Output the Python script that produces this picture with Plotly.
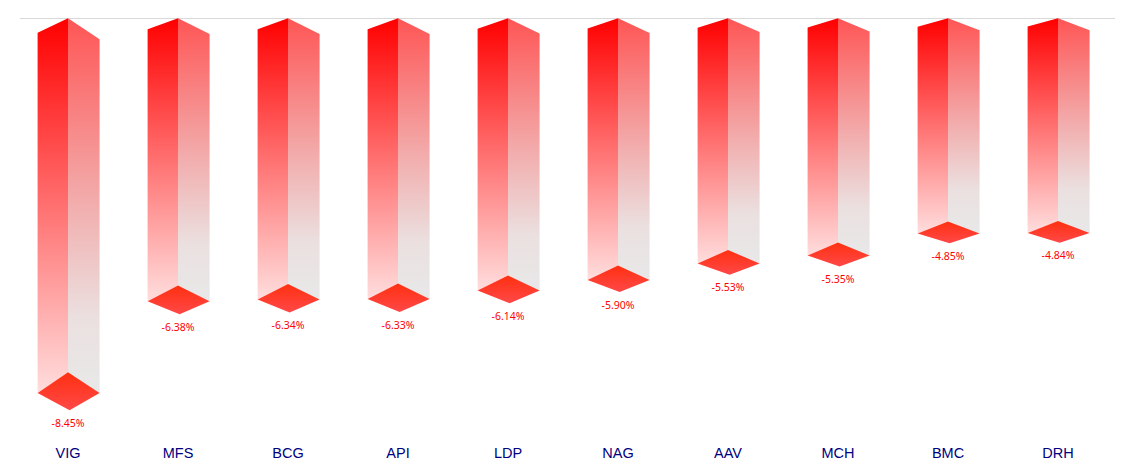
import plotly.graph_objects as go

categories = ["VIG", "MFS", "BCG", "API", "LDP", "NAG", "AAV", "MCH", "BMC", "DRH"]
values = [-8.45, -6.38, -6.34, -6.33, -6.14, -5.90, -5.53, -5.35, -4.85, -4.84]

W, H = 1137, 464
ML, MR, MT, MB = 20, 22, 10, 22
PX_X = 110.0    # px per category
PX_Y = 44.35    # px per value unit
X0_PX = 68.0    # page x of the first category
Y0_PX = 18.3    # page y of value 0

dx_left = -30.4 / PX_X
dx_right = 31.6 / PX_X
dx_bottom = 1.6 / PX_X
top_left = 1.72 / PX_Y
top_right = 2.48 / PX_Y
apex = 2.46 / PX_Y
lower = 2.04 / PX_Y

LEFT_CS = [[0, "#ffdddd"], [0.5, "#ff7070"], [1, "#ff0000"]]
RIGHT_CS = [[0, "#e8e8e8"], [0.2, "#ebe0e0"], [0.5, "#f2aeae"], [1, "#ff5555"]]
DIAMOND_CS = [[0, "#ff4848"], [1, "#ff3010"]]


def face(xs, ys, cs):
    return go.Scatter(
        x=xs + xs[:1], y=ys + ys[:1], mode="none", fill="toself",
        fillgradient=dict(type="vertical", colorscale=cs),
        hoverinfo="skip", showlegend=False,
    )


fig = go.Figure()
for i, v in enumerate(values):
    xl, xc, xr, xb = i + dx_left, i, i + dx_right, i + dx_bottom
    y_apex = v - apex * v
    y_bottom = v + lower * v
    fig.add_trace(face([xl, xc, xc, xl], [top_left * v, 0, y_apex, v], LEFT_CS))
    fig.add_trace(face([xc, xr, xr, xc], [0, top_right * v, v, y_apex], RIGHT_CS))
    fig.add_trace(face([xc, xr, xb, xl], [y_apex, v, y_bottom, v], DIAMOND_CS))

fig.add_trace(go.Scatter(
    x=list(range(len(values))),
    y=[v + lower * v - 14 / PX_Y for v in values],
    mode="text",
    text=[f"{v:.2f}%" for v in values],
    textposition="middle center",
    textfont=dict(family="Noto Sans", size=10.5, color="#ff0000"),
    hoverinfo="skip", showlegend=False,
))

plot_w = W - ML - MR
plot_h = H - MT - MB
fig.update_layout(
    width=W, height=H,
    margin=dict(l=ML, r=MR, t=MT, b=MB, autoexpand=False),
    paper_bgcolor="white", plot_bgcolor="white",
    showlegend=False,
    xaxis=dict(
        range=[(ML - X0_PX) / PX_X, (ML + plot_w - X0_PX) / PX_X],
        tickmode="array",
        tickvals=list(range(len(categories))),
        ticktext=categories,
        tickfont=dict(family="Liberation Sans", size=14.5, color="#000080"),
        showgrid=False, zeroline=False, showline=False,
        ticks="", ticklen=0, automargin=False,
    ),
    yaxis=dict(
        range=[(Y0_PX - MT - plot_h) / PX_Y, (Y0_PX - MT) / PX_Y],
        showticklabels=False, showgrid=False, ticks="",
        zeroline=True, zerolinecolor="#d9d9d9", zerolinewidth=1,
        showline=False, automargin=False,
    ),
)
fig.write_html(
    "out.html",
    config={"displayModeBar": False},
    post_script="document.body.style.margin='0';document.documentElement.style.overflow='hidden';",
)
